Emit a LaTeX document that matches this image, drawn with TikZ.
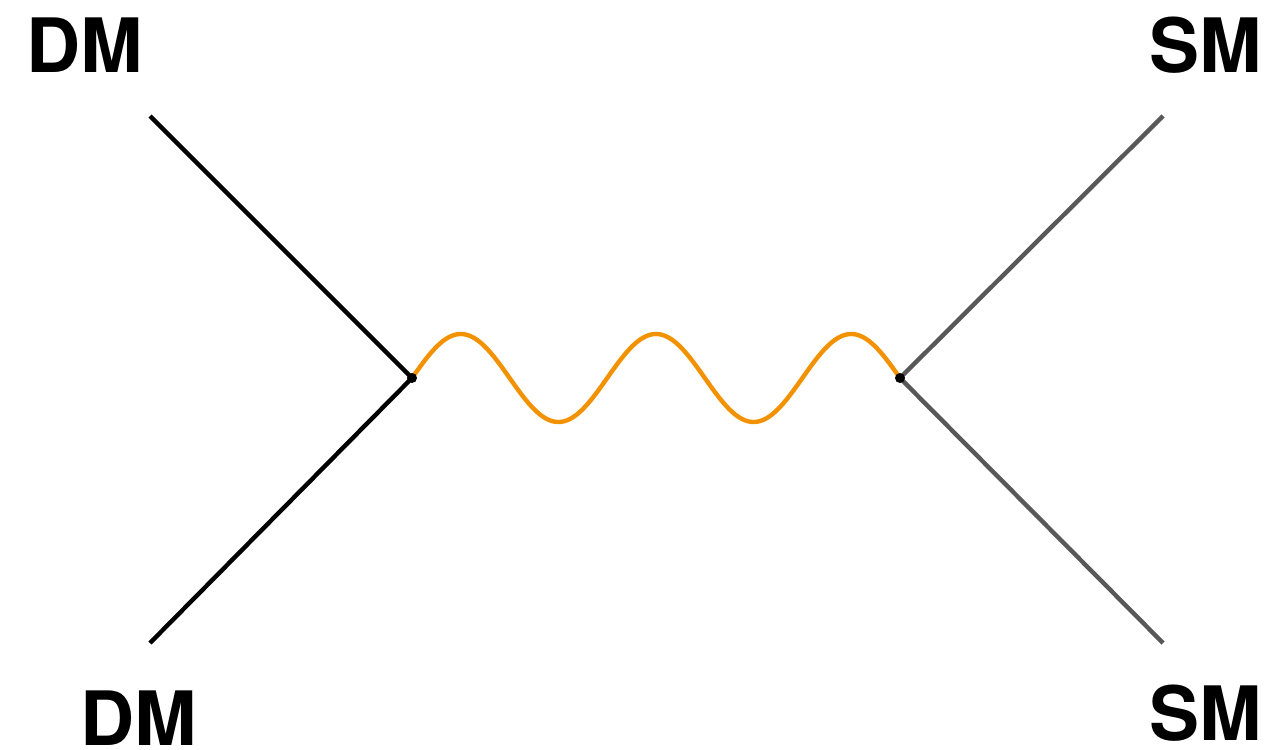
\documentclass[tikz,border=0pt]{standalone}
\usepackage{fontspec}
\setmainfont{TeX Gyre Heros}
\definecolor{wavecol}{RGB}{243,146,0}
\definecolor{smcol}{RGB}{88,88,88}
\begin{document}
\begin{tikzpicture}[x=1pt,y=-1pt,
  lbl/.style={font=\fontsize{75}{80}\selectfont\bfseries, inner sep=0pt, anchor=base},
  dmline/.style={draw=black, line width=4.4pt},
  smline/.style={draw=smcol, line width=4.4pt},
  wave/.style={draw=wavecol, line width=4.4pt},
  vtx/.style={circle, fill=black, minimum size=10pt, inner sep=0pt}]
\useasboundingbox (0,0) rectangle (1270,750);
\fill[white] (0,0) rectangle (1270,750);
\coordinate (dm1) at (150,116);
\coordinate (dm2) at (150,643);
\coordinate (sm1) at (1163,116);
\coordinate (sm2) at (1163,643);
\coordinate (va) at (412,378);
\coordinate (vb) at (900,378);
\draw[dmline] (dm1) -- (va) -- (dm2);
\draw[smline] (sm1) -- (vb) -- (sm2);
\draw[wave, domain=0:900, samples=240, smooth] plot ({412+\x*0.54222},{378-44*sin(\x)});
\node[vtx] (a) at (va) {};
\node[vtx] (b) at (vb) {};
\node[lbl] (t1) at (85,72) {DM};
\node[lbl] (t2) at (139,745) {DM};
\node[lbl] (t3) at (1206,72) {SM};
\node[lbl] (t4) at (1206,740) {SM};
\end{tikzpicture}
\end{document}
